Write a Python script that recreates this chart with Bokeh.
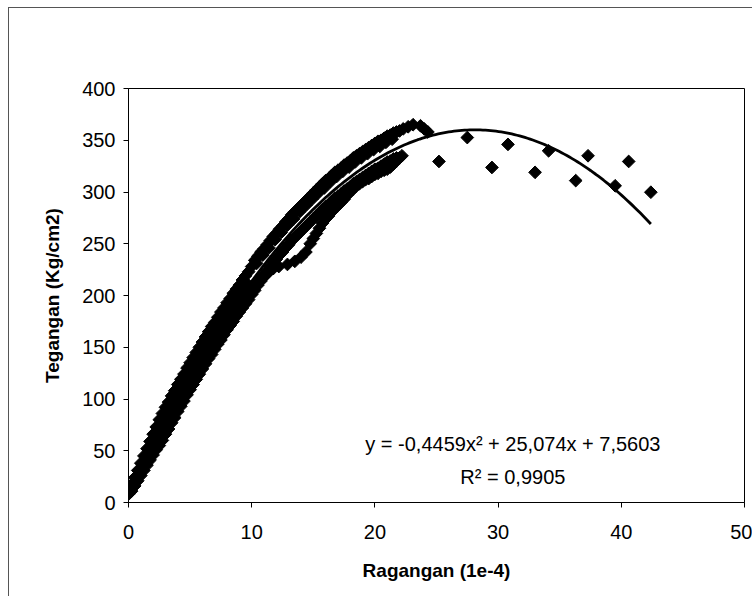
import numpy as np
from bokeh.plotting import figure
from bokeh.models import Label, FixedTicker, Range1d
from bokeh.embed import file_html
from bokeh.resources import INLINE

# ---- data ----
# upper edge of the dense band of test points
regangan_a = [0.25, 0.5, 0.75, 1.0, 1.25, 1.5, 1.75, 2.0, 2.25, 2.5,
              2.75, 3.0, 3.25, 3.5, 3.75, 4.0, 4.25, 4.5, 4.75, 5.0,
              5.25, 5.5, 5.75, 6.0, 6.25, 6.5, 6.75, 7.0, 7.25, 7.5,
              7.75, 8.0, 8.25, 8.5, 8.75, 9.0, 9.25, 9.5, 9.75, 10.0,
              10.25, 10.5, 10.75, 11.0, 11.25, 11.5, 11.75, 12.0, 12.25, 12.5,
              12.75, 13.0, 13.25, 13.5, 13.75, 14.0, 14.25, 14.5, 14.75, 15.0,
              15.25, 15.5, 15.75, 16.0, 16.25, 16.5, 16.75, 17.0, 17.25, 17.5,
              17.75, 18.0, 18.25, 18.5, 18.75, 19.0, 19.25, 19.5, 19.75, 20.0,
              20.25, 20.5, 20.75, 21.0, 21.25, 21.5, 21.75, 22.0,
              22.3, 22.7, 23.1, 23.7, 24.0, 24.3]
tegangan_a = [17, 24, 31, 38, 45, 52, 59, 66, 73, 80,
              86, 92, 97, 103, 108, 114, 119, 124, 130, 135,
              140, 145, 150, 155, 160, 165, 170, 174, 179, 184,
              188, 193, 197, 202, 206, 210, 215, 219, 223, 228,
              234, 238, 242, 245, 249, 253, 257, 260, 264, 267,
              271, 274, 278, 281, 284, 287, 290, 293, 296, 299,
              302, 305, 308, 311, 313, 316, 319, 321, 323, 326,
              328, 330, 333, 335, 337, 339, 341, 343, 345, 347,
              349, 350, 352, 354, 355, 357, 358, 359,
              361, 363, 365, 364, 361, 358]
# points just under the upper edge
regangan_u = [10.4, 10.9, 11.4, 11.9, 12.4, 12.9, 13.4, 13.9, 14.4, 14.9, 15.4, 15.9,
              16.4, 16.9, 17.4, 17.9, 18.4, 18.9, 19.4, 19.9, 20.4, 20.9, 21.4]
tegangan_u = [231, 239, 246, 254, 261, 268, 274, 281, 287, 293, 299, 304,
              310, 315, 320, 324, 329, 333, 337, 341, 344, 348, 351]
# middle of the band at low strain
regangan_m = [0.0, 0.25, 0.5, 0.75, 1.0, 1.25, 1.5, 1.75, 2.0, 2.25,
              2.5, 2.75, 3.0, 3.25, 3.5, 3.75, 4.0, 4.25, 4.5, 4.75,
              5.0, 5.25, 5.5, 5.75, 6.0, 6.25, 6.5, 6.75, 7.0, 7.25,
              7.5, 7.75, 8.0, 8.25, 8.5, 8.75, 9.0, 9.25, 9.5, 9.75]
tegangan_m = [8, 14, 20, 26, 32, 38, 44, 50, 56, 62,
              67, 73, 79, 84, 90, 95, 101, 106, 111, 117,
              122, 127, 132, 137, 142, 147, 152, 156, 161, 166,
              170, 175, 180, 184, 188, 193, 197, 201, 205, 210]
# points hugging the trend line from below
regangan_d = [10.25, 10.5, 10.75, 11.0, 11.25, 11.5, 11.75, 12.0, 12.25, 12.5,
              12.75, 13.0, 13.25, 13.5, 13.75, 14.0, 14.25, 14.5, 14.75, 15.0,
              15.25, 15.5, 15.75, 16.0, 16.25, 16.5, 16.75, 17.0, 17.25, 17.5,
              17.75, 18.0, 18.25, 18.5, 18.75, 19.0, 19.25, 19.5, 19.75, 20.0,
              20.25, 20.5, 20.75, 21.0, 21.25, 21.5, 21.75]
tegangan_d = [209, 213, 217, 220, 224, 228, 232, 235, 239, 242,
              246, 249, 253, 256, 259, 262, 265, 268, 271, 274,
              277, 280, 283, 286, 288, 291, 294, 296, 298, 301,
              303, 305, 308, 310, 312, 314, 316, 318, 320, 322,
              323, 325, 327, 329, 330, 332, 333]
# lower edge of the band
regangan_b = [0.25, 0.5, 0.75, 1.0, 1.25, 1.5, 1.75, 2.0, 2.25, 2.5,
              2.75, 3.0, 3.25, 3.5, 3.75, 4.0, 4.25, 4.5, 4.75, 5.0,
              5.25, 5.5, 5.75, 6.0, 6.25, 6.5, 6.75, 7.0, 7.25, 7.5,
              7.75, 8.0, 8.25, 8.5, 8.75, 9.0, 9.25, 9.5, 9.75,
              10.0, 10.25, 10.5, 10.75, 11.0, 11.25, 11.5, 11.75, 12.2, 12.9,
              13.5, 14.0, 14.4, 14.75, 15.0, 15.25, 15.5, 15.75, 16.0, 16.25,
              16.5, 16.75, 17.0, 17.25, 17.5, 17.75, 18.0, 18.25, 18.5, 18.75,
              19.0, 19.25, 19.5, 19.75, 20.0, 20.25, 20.5, 20.75, 21.0, 21.25,
              21.5, 21.75, 22.0, 22.2]
tegangan_b = [11, 16, 21, 26, 31, 36, 41, 46, 51, 55,
              60, 66, 71, 77, 82, 88, 93, 98, 104, 109,
              114, 119, 124, 129, 134, 139, 143, 148, 153, 157,
              162, 167, 171, 175, 180, 184, 188, 192, 196,
              201, 205, 210, 214, 218, 221, 224, 226, 228, 230,
              233, 237, 242, 250, 255, 260, 265, 270, 274, 277,
              281, 284, 287, 290, 293, 297, 300, 303, 306, 308,
              310, 312, 313, 315, 317, 318, 320, 321, 322, 324,
              327, 330, 333, 335]
# scattered points beyond the peak
regangan_c = [25.2, 27.5, 29.5, 30.8, 33.0, 34.1, 36.3, 37.3, 39.5, 40.6, 42.4]
tegangan_c = [329.5, 352.6, 323.7, 346.0, 319.0, 339.8, 311.0, 335.0, 306.0, 329.5, 299.8]

regangan = regangan_a + regangan_u + regangan_m + regangan_d + regangan_b + regangan_c
tegangan = tegangan_a + tegangan_u + tegangan_m + tegangan_d + tegangan_b + tegangan_c

trend_coef = [-0.4459, 25.074, 7.5603]
x_ticks = [0, 10, 20, 30, 40, 50]
y_ticks = [0, 50, 100, 150, 200, 250, 300, 350, 400]
equation_text = "y = -0,4459x\u00b2 + 25,074x + 7,5603"
r2_text = "R\u00b2 = 0,9905"
x_title = "Ragangan (1e-4)"
y_title = "Tegangan (Kg/cm2)"

FONT = "Liberation Sans"

p = figure(width=744, height=589, x_range=Range1d(0, 50), y_range=Range1d(0, 400),
           output_backend="svg", toolbar_location=None,
           min_border_left=119, min_border_right=9, min_border_top=80, min_border_bottom=95)
p.margin = (7, 0, 0, 8)
p.styles = {"border-left": "1px solid #555", "border-top": "1px solid #555"}

p.xgrid.visible = False
p.ygrid.visible = False
p.outline_line_color = "black"
p.outline_line_width = 1
p.background_fill_color = "white"
p.border_fill_color = "white"

p.xaxis.ticker = FixedTicker(ticks=x_ticks)
p.yaxis.ticker = FixedTicker(ticks=y_ticks)
for ax in (p.xaxis[0], p.yaxis[0]):
    ax.axis_line_color = "black"
    ax.major_tick_line_color = "black"
    ax.major_tick_out = 5
    ax.major_tick_in = 0
    ax.minor_tick_line_color = None
    ax.major_label_text_font = FONT
    ax.major_label_text_font_size = "20px"
    ax.major_label_text_color = "black"
    ax.axis_label_text_font = FONT
    ax.axis_label_text_font_size = "19px"
    ax.axis_label_text_font_style = "bold"
    ax.axis_label_text_color = "black"
p.xaxis.axis_label = x_title
p.yaxis.axis_label = y_title
p.xaxis.major_label_standoff = 17
p.yaxis.major_label_standoff = 8
p.xaxis.axis_label_standoff = 18
p.yaxis.axis_label_standoff = 16

p.scatter(regangan, tegangan, marker="square", size=9, angle=np.pi / 4,
          fill_color="black", line_color="black")

xs = np.linspace(0, max(regangan), 200)
ys = np.polyval(trend_coef, xs)
p.line(xs, ys, line_color="black", line_width=2.8)

p.add_layout(Label(x=31.2, y=57, text=equation_text, text_align="center",
                   text_baseline="middle", text_font=FONT, text_font_size="20px",
                   text_color="black"))
p.add_layout(Label(x=31.2, y=25, text=r2_text, text_align="center",
                   text_baseline="middle", text_font=FONT, text_font_size="20px",
                   text_color="black"))

open("out.html", "w").write(file_html(p, INLINE))
